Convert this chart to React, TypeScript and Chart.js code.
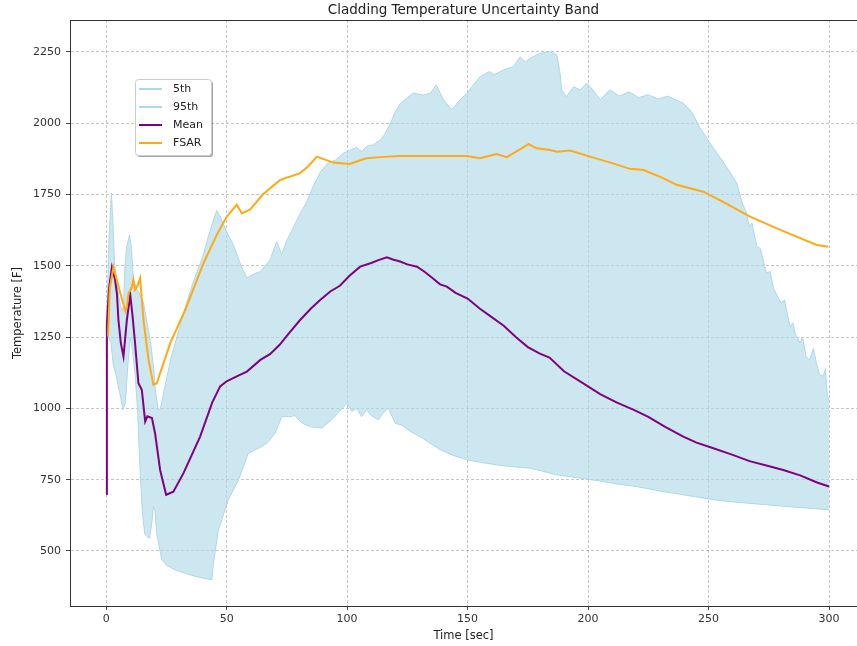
import React, { useEffect, useRef } from "react";
import { Chart, registerables } from "chart.js";

Chart.register(...registerables);

const chartTitle = "Cladding Temperature Uncertainty Band";
const xAxisLabel = "Time [sec]";
const yAxisLabel = "Temperature [F]";
const xTickValues = [0, 50, 100, 150, 200, 250, 300];
const yTickValues = [500, 750, 1000, 1250, 1500, 1750, 2000, 2250];

// 95th percentile (upper band edge)
const p95Time = [0, 0.6, 1.2, 2.2, 2.8, 3.5, 4.5, 5.5, 6.5, 7.2, 7.8, 8.6, 9.7, 10.5, 11.3, 12.5, 14, 15.5, 17, 18.3, 19.6, 20.5, 21.5, 22.4, 23.5, 25, 27, 30, 33, 36, 40, 43, 45.9, 47.5, 50, 53, 56, 58.4, 61, 64, 66, 68, 70.8, 72.8, 75, 78, 80.5, 83, 86, 89, 92, 95, 98.5, 101, 104, 106, 108, 111, 113.7, 115.5, 118, 120, 122, 125, 127.5, 131.7, 134.5, 137, 140, 143.4, 146.9, 149.7, 152, 155.2, 159, 161, 163.5, 166, 169, 171.8, 174, 176, 180, 184, 187, 188.4, 189, 191, 194, 196.7, 199.5, 202, 205, 209, 213, 217, 221, 225, 229, 233, 237, 239.5, 243, 246, 250.6, 254, 258, 261.7, 264, 265.5, 267, 268, 270, 271.5, 274, 275.5, 277, 280, 281.5, 283.8, 285, 286, 288, 289, 290.5, 292, 293.5, 295, 296, 297.6, 298.5, 299.3, 300];
const p95Temp = [1300, 1420, 1600, 1755, 1650, 1510, 1440, 1380, 1340, 1360, 1500, 1570, 1608, 1560, 1455, 1420, 1400, 1370, 1300, 1240, 1150, 1060, 1000, 995, 1040, 1100, 1180, 1270, 1360, 1440, 1530, 1620, 1694, 1670, 1620, 1570, 1500, 1457, 1470, 1480, 1500, 1521, 1585, 1540, 1590, 1640, 1684, 1720, 1780, 1830, 1860, 1870, 1895, 1905, 1915, 1900, 1918, 1925, 1941, 1960, 2000, 2040, 2068, 2090, 2105, 2099, 2105, 2134, 2082, 2047, 2082, 2105, 2130, 2163, 2181, 2170, 2181, 2190, 2198, 2233, 2215, 2228, 2245, 2251, 2240, 2175, 2117, 2093, 2128, 2117, 2140, 2117, 2082, 2117, 2095, 2110, 2090, 2100, 2085, 2095, 2080, 2070, 2040, 1990, 1930, 1890, 1840, 1790, 1720, 1690, 1637, 1650, 1570, 1560, 1474, 1480, 1420, 1370, 1380, 1287, 1300, 1260, 1230, 1250, 1180, 1170, 1210, 1150, 1120, 1112, 1140, 1040, 1030];

// 5th percentile (lower band edge)
const p5Time = [0, 1, 2, 3, 4, 5, 6, 7, 8, 9, 10, 11, 12, 13, 14, 15, 16, 17, 18, 19, 19.6, 20.3, 21, 22.4, 23.1, 25, 28.6, 33.5, 36.9, 40, 43.9, 44.5, 46.6, 50.7, 54.9, 59, 64.6, 67, 70.1, 72.9, 76.3, 78.4, 81, 84.6, 89.5, 94.3, 99.9, 102, 104, 106, 108, 110, 113, 115, 117, 120, 123, 126, 130.3, 134, 138.6, 144, 149.7, 156, 162, 169, 176, 181, 187, 193, 199.5, 205, 212, 220, 230, 239.5, 246, 253, 260, 267, 274, 282, 290, 300];
const p5Temp = [1240, 1250, 1230, 1150, 1120, 1080, 1040, 995, 1020, 1150, 1250, 1200, 1120, 1000, 800, 640, 560, 550, 545, 600, 656, 640, 560, 500, 470, 450, 434, 420, 411, 405, 399, 457, 574, 679, 749, 843, 866, 880, 913, 971, 971, 975, 950, 936, 931, 966, 1018, 990, 1000, 971, 995, 975, 960, 985, 1001, 948, 940, 920, 901, 880, 855, 835, 820, 810, 802, 795, 790, 780, 767, 760, 752, 745, 735, 726, 710, 697, 688, 679, 672, 667, 662, 656, 651, 644];

// Mean
const meanTime = [0, 0.3, 1.2, 2.4, 3.7, 4.5, 5.1, 6.1, 7.2, 8.6, 10, 11, 12, 13.4, 14.8, 16.2, 17.1, 19, 20.3, 22.4, 24.9, 27.9, 32.1, 39, 44, 47.3, 50, 54.2, 58.4, 64, 68, 72, 76, 80.5, 85, 88.8, 93, 97, 101, 105.4, 110, 113, 116.5, 119, 122, 125, 129, 132, 135, 138.6, 141.4, 145, 150, 155, 160, 165, 170, 175, 180, 184, 190, 198, 205, 212, 219, 225, 232, 239.5, 245, 252, 260, 267, 274, 281, 288, 295, 300];
const meanTemp = [700, 1293, 1420, 1495, 1451, 1400, 1310, 1229, 1182, 1310, 1398, 1320, 1229, 1088, 1065, 954, 972, 966, 913, 784, 697, 708, 773, 901, 1020, 1077, 1095, 1112, 1129, 1170, 1190, 1223, 1265, 1310, 1350, 1380, 1410, 1430, 1465, 1497, 1510, 1520, 1530, 1522, 1515, 1505, 1497, 1480, 1460, 1435, 1427, 1405, 1385, 1350, 1320, 1290, 1250, 1215, 1192, 1178, 1130, 1088, 1050, 1020, 995, 970, 935, 901, 880, 860, 837, 815, 800, 784, 765, 740, 726];

// FSAR
const fsarTime = [0.8, 1.5, 3, 4.4, 6, 8, 8.6, 9.3, 10.5, 11.3, 12, 13, 14.1, 15.5, 17.6, 19.6, 21, 26.6, 32.8, 40.4, 46, 50.1, 54.2, 56.3, 59.8, 65, 72.2, 80.5, 84, 87.4, 94.3, 101, 108, 115, 122, 135, 149.7, 155.2, 162, 166.3, 175.3, 178.7, 184.2, 187, 192.5, 200.8, 210, 217.4, 223, 230, 236.8, 247.8, 257, 267, 280, 294.9, 299.7];
const fsarTemp = [1252, 1420, 1495, 1451, 1400, 1340, 1357, 1404, 1420, 1451, 1416, 1430, 1457, 1310, 1170, 1083, 1088, 1229, 1345, 1509, 1610, 1673, 1714, 1684, 1698, 1750, 1801, 1825, 1850, 1883, 1862, 1857, 1877, 1882, 1885, 1885, 1885, 1877, 1892, 1881, 1927, 1912, 1906, 1900, 1904, 1883, 1860, 1840, 1836, 1812, 1784, 1760, 1720, 1673, 1625, 1573, 1567];

const toPoints = (ts: number[], vs: number[]) => ts.map((t, i) => ({ x: t, y: vs[i] }));

const FONT = "'DejaVu Sans', 'Liberation Sans', sans-serif";

const framePlugin = {
  id: "topFrame",
  afterDatasetsDraw(chart: any) {
    const { ctx, chartArea } = chart;
    ctx.save();
    ctx.strokeStyle = "#333";
    ctx.lineWidth = 1;
    ctx.beginPath();
    ctx.moveTo(chartArea.left, chartArea.top + 0.5);
    ctx.lineTo(chartArea.right, chartArea.top + 0.5);
    ctx.stroke();
    ctx.restore();
  },
};

const legendPlugin = {
  id: "boxLegend",
  afterDatasetsDraw(chart: any) {
    const { ctx } = chart;
    const x = 135, y = 79, w = 76, h = 76;
    ctx.save();
    ctx.fillStyle = "rgba(0,0,0,0.35)";
    ctx.beginPath();
    ctx.roundRect(x + 2, y + 2, w, h, 3);
    ctx.fill();
    ctx.fillStyle = "rgba(255,255,255,1)";
    ctx.strokeStyle = "#cccccc";
    ctx.lineWidth = 1;
    ctx.beginPath();
    ctx.roundRect(x + 0.5, y + 0.5, w, h, 3);
    ctx.fill();
    ctx.stroke();
    const items = [...chart.data.datasets].sort((a: any, b: any) => a.legendIndex - b.legendIndex);
    ctx.font = "11px " + FONT;
    ctx.textBaseline = "middle";
    ctx.textAlign = "left";
    items.forEach((ds: any, i: number) => {
      const yy = y + 10 + i * 18;
      ctx.strokeStyle = ds.borderColor;
      ctx.lineWidth = ds.legendWidth;
      ctx.beginPath();
      ctx.moveTo(x + 4, yy);
      ctx.lineTo(x + 27, yy);
      ctx.stroke();
      ctx.fillStyle = "#222";
      ctx.fillText(ds.label, x + 38, yy);
    });
    ctx.restore();
  },
};

export default function App() {
  const canvasRef = useRef<HTMLCanvasElement | null>(null);

  useEffect(() => {
    if (!canvasRef.current) return;
    Chart.defaults.font.family = FONT;
    const gridColor = "rgba(170,170,170,0.85)";
    const chart = new Chart(canvasRef.current, {
      type: "line",
      data: {
        datasets: [
          {
            label: "5th",
            data: toPoints(p5Time, p5Temp),
            borderColor: "rgb(173,216,230)",
            borderWidth: 1,
            pointRadius: 0,
            fill: false,
            order: 2,
            legendIndex: 0,
            legendWidth: 2,
          } as any,
          {
            label: "95th",
            data: toPoints(p95Time, p95Temp),
            borderColor: "rgb(173,216,230)",
            backgroundColor: "rgba(173,216,230,0.62)",
            borderWidth: 1,
            pointRadius: 0,
            fill: "-1",
            order: 2,
            legendIndex: 1,
            legendWidth: 2,
          } as any,
          {
            label: "Mean",
            data: toPoints(meanTime, meanTemp),
            borderColor: "rgb(128,0,128)",
            borderWidth: 2,
            pointRadius: 0,
            fill: false,
            order: 1,
            legendIndex: 2,
            legendWidth: 2,
          } as any,
          {
            label: "FSAR",
            data: toPoints(fsarTime, fsarTemp),
            borderColor: "rgb(255,170,20)",
            borderWidth: 2,
            pointRadius: 0,
            fill: false,
            order: 0,
            legendIndex: 3,
            legendWidth: 2,
          } as any,
        ],
      },
      options: {
        animation: false,
        responsive: false,
        layout: { padding: 0 },
        plugins: {
          legend: { display: false },
          tooltip: { enabled: false },
          title: {
            display: true,
            text: chartTitle,
            fullSize: false,
            color: "#222",
            font: { size: 13.5, weight: "normal", family: FONT },
            padding: { top: 2, bottom: 1.8 },
          },
        },
        scales: {
          x: {
            type: "linear",
            min: -15,
            max: 311.6,
            afterBuildTicks: (s: any) => {
              s.ticks = xTickValues.map((v) => ({ value: v }));
            },
            afterFit: (s: any) => {
              s.height = 40;
            },
            ticks: { color: "#333", font: { size: 11 }, padding: 3, maxRotation: 0, autoSkip: false, callback: (v: any) => String(v) },
            grid: { color: gridColor, lineWidth: 0.8, tickLength: 4, tickColor: "#444", tickWidth: 1, tickBorderDash: [] },
            border: { color: "#333", width: 1, dash: [3, 2] },
            title: { display: true, text: xAxisLabel, color: "#222", font: { size: 11.5 }, padding: { top: 0, bottom: 3 } },
          },
          y: {
            type: "linear",
            min: 307,
            max: 2362,
            afterBuildTicks: (s: any) => {
              s.ticks = yTickValues.map((v) => ({ value: v }));
            },
            afterFit: (s: any) => {
              s.width = 70;
            },
            ticks: { color: "#333", font: { size: 11 }, padding: 5, callback: (v: any) => String(v) },
            grid: { color: gridColor, lineWidth: 0.8, tickLength: 4, tickColor: "#444", tickWidth: 1, tickBorderDash: [] },
            border: { color: "#333", width: 1, dash: [3, 2] },
            title: { display: true, text: yAxisLabel, color: "#222", font: { size: 11.5 }, padding: { top: 11, bottom: 0 } },
          },
        },
      } as any,
      plugins: [framePlugin, legendPlugin],
    });
    return () => chart.destroy();
  }, []);

  return (
    <div style={{ position: "absolute", left: 0, top: 0, width: 857, height: 646, background: "#fff" }}>
      <canvas ref={canvasRef} width={857} height={646} style={{ display: "block" }} />
    </div>
  );
}
